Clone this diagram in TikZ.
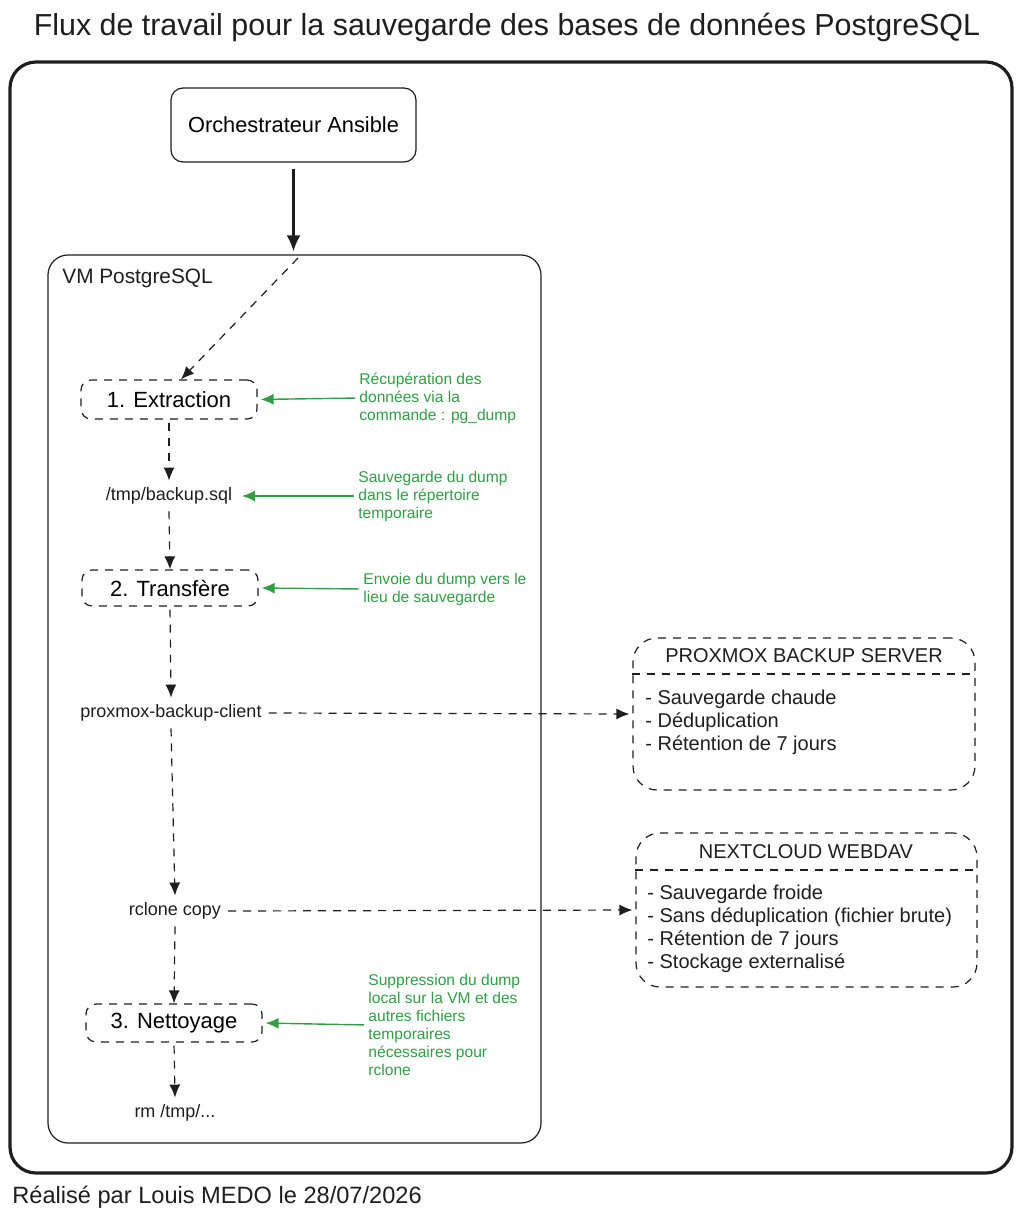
\documentclass[tikz,border=0pt]{standalone}
\usepackage{fontspec}
\usetikzlibrary{arrows.meta}
\setmainfont{Liberation Sans}
\definecolor{ink}{HTML}{1E1E1E}
\definecolor{notegreen}{HTML}{2F9E44}
\begin{document}
\begin{tikzpicture}[x=0.5pt,y=-0.5pt,>={Latex[length=6.5pt,width=5.5pt]},
  dashline/.style={dash pattern=on 4pt off 3.5pt},
  stepbox/.style={draw=ink, line width=0.6pt, dashline, rounded corners=5pt, minimum width=88pt, font=\fontsize{11}{13}\selectfont},
  codetext/.style={text=ink, font=\fontsize{9}{11}\selectfont},
  notetext/.style={text=notegreen, anchor=west, inner sep=0pt, align=left, font=\fontsize{7.8}{9}\selectfont},
  infobox/.style={draw=ink, line width=0.6pt, dashline, rounded corners=12pt},
  flow/.style={->, ink, line width=0.6pt, dashline},
  notearrow/.style={->, notegreen, line width=0.7pt, shorten <=2pt, shorten >=1.5pt}]
\useasboundingbox (0,0) rectangle (1020,1221);
% Title and outer frame
\node[text=ink, font=\fontsize{15.2}{18}\selectfont] (title) at (507,27) {Flux de travail pour la sauvegarde des bases de données PostgreSQL};
\draw[ink, line width=1.6pt, rounded corners=13pt] (10,62) rectangle (1012,1173);
\node[text=ink, anchor=west, inner sep=0pt, font=\fontsize{11.8}{14}\selectfont] (credit) at (12,1197) {Réalisé par Louis MEDO le 28/07/2026};

% Orchestrator and VM
\node[draw=ink, line width=0.6pt, rounded corners=6pt, minimum width=122.5pt, minimum height=37pt, font=\fontsize{10.9}{13}\selectfont] (ansible) at (293.5,125) {Orchestrateur Ansible};
\node[draw=ink, line width=0.6pt, rounded corners=10pt, minimum width=246.5pt, minimum height=444pt] (vm) at (294.5,699) {};
\node[text=ink, anchor=west, inner sep=0pt, font=\fontsize{10.4}{12}\selectfont] (vmlabel) at (62,278) {VM PostgreSQL};
\draw[-{Latex[length=8pt,width=7pt]}, ink, line width=1.2pt, shorten <=3pt, shorten >=1.5pt] (ansible.south) -- (ansible.south |- vm.north);
\coordinate (vmentry) at (298,258);

% Steps inside the VM
\node[stepbox, minimum height=19.5pt] (extract) at (169,399.5) {1. Extraction};
\node[codetext] (dump) at (169,496) {/tmp/backup.sql};
\node[stepbox, minimum height=18pt] (transfer) at (170,588) {2. Transfère};
\node[codetext] (pbclient) at (171,713) {proxmox-backup-client};
\node[codetext] (rclone) at (175,911) {rclone copy};
\node[stepbox, minimum height=19pt] (cleanup) at (174,1023) {3. Nettoyage};
\node[codetext] (rmtmp) at (175,1113) {rm /tmp/...};

\draw[flow] (vmentry) -- ([xshift=6]extract.north);
\draw[flow, shorten <=1.5pt] (extract.south) -- (dump.north);
\draw[flow] (dump.south) -- (transfer.north);
\draw[flow, shorten <=1.5pt] (transfer.south) -- (pbclient.north);
\draw[flow] (pbclient.south) -- (rclone.north);
\draw[flow] (rclone.south) -- (cleanup.north);
\draw[flow, shorten <=1.5pt] (cleanup.south) -- (rmtmp.north);

% Green notes
\node[notetext] (note1) at (359,398) {Récupération des\\données via la\\commande : pg\_dump};
\node[notetext] (note2) at (358,496) {Sauvegarde du dump\\dans le répertoire\\temporaire};
\node[notetext] (note3) at (363,589) {Envoie du dump vers le\\lieu de sauvegarde};
\node[notetext] (note4) at (368,1025) {Suppression du dump\\local sur la VM et des\\autres fichiers\\temporaires\\nécessaires pour\\rclone};
\draw[notearrow] (note1.west) -- (extract.east);
\draw[notearrow] (note2.west) -- (dump.east);
\draw[notearrow] (note3.west) -- (transfer.east);
\draw[notearrow] (note4.west) -- (cleanup.east);

% Backup targets
\node[infobox, minimum width=171pt, minimum height=76pt] (pbs) at (804,714) {};
\node[text=ink, font=\fontsize{10}{12}\selectfont] (pbstitle) at (804,656) {PROXMOX BACKUP SERVER};
\draw[ink, line width=0.6pt, dashline] (pbs.west |- 0,674) -- (pbs.east |- 0,674);
\node[text=ink, anchor=west, inner sep=0pt, align=left, font=\fontsize{10}{11.5}\selectfont] (pbslist) at (645,722) {- Sauvegarde chaude\\- Déduplication\\- Rétention de 7 jours};

\node[infobox, minimum width=170.5pt, minimum height=77pt] (nextcloud) at (806.5,910) {};
\node[text=ink, font=\fontsize{10}{12}\selectfont] (nctitle) at (806,852) {NEXTCLOUD WEBDAV};
\draw[ink, line width=0.6pt, dashline] (nextcloud.west |- 0,870) -- (nextcloud.east |- 0,870);
\node[text=ink, anchor=west, inner sep=0pt, align=left, font=\fontsize{10}{11.5}\selectfont] (nclist) at (647,928.5) {- Sauvegarde froide\\- Sans déduplication (fichier brute)\\- Rétention de 7 jours\\- Stockage externalisé};

\draw[flow, shorten >=1.5pt] (pbclient.east) -- (pbs.west);
\draw[flow, shorten >=1.5pt] (rclone.east) -- (nextcloud.west);
\end{tikzpicture}
\end{document}
